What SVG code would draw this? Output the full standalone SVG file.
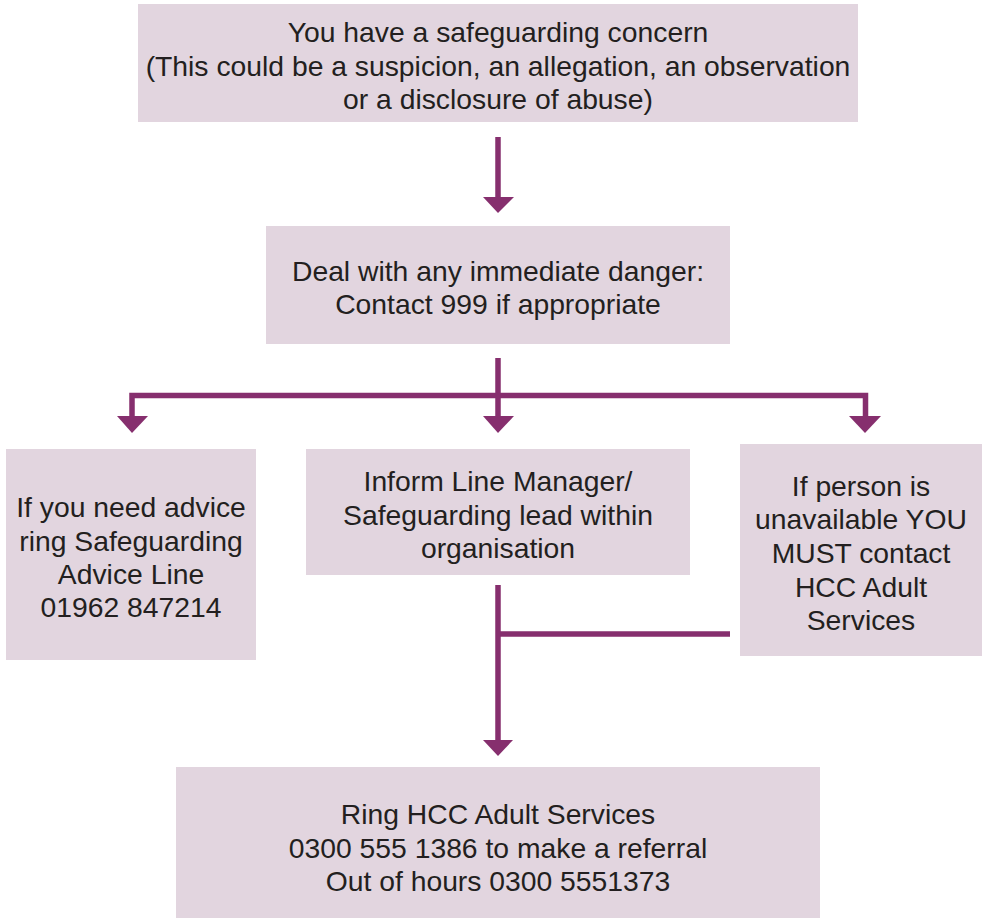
<svg xmlns="http://www.w3.org/2000/svg" width="987" height="920" viewBox="0 0 987 920">
<style>
.box{fill:#e2d5df}
.t{font-family:"Liberation Sans",Arial,sans-serif;font-size:28.3px;fill:#231f20;text-anchor:middle}
.ln{stroke:#862f6e;stroke-width:5.5;fill:none}
.ah{fill:#862f6e}
</style>
<rect width="987" height="920" fill="#ffffff"/>
<g id="n1"><rect class="box" x="138" y="4" width="720" height="118"/>
<text class="t" x="498" y="42">You have a safeguarding concern</text>
<text class="t" x="498" y="76">(This could be a suspicion, an allegation, an observation</text>
<text class="t" x="498" y="109">or a disclosure of abuse)</text></g>
<g id="n2"><rect class="box" x="266" y="226" width="464" height="118"/>
<text class="t" x="498" y="281">Deal with any immediate danger:</text>
<text class="t" x="498" y="314">Contact 999 if appropriate</text></g>
<g id="n3"><rect class="box" x="6" y="449" width="250" height="211"/>
<text class="t" x="131" y="517">If you need advice</text>
<text class="t" x="131" y="551">ring Safeguarding</text>
<text class="t" x="131" y="584">Advice Line</text>
<text class="t" x="131" y="617">01962 847214</text></g>
<g id="n4"><rect class="box" x="306" y="449" width="384" height="126"/>
<text class="t" x="498" y="491">Inform Line Manager/</text>
<text class="t" x="498" y="525">Safeguarding lead within</text>
<text class="t" x="498" y="558">organisation</text></g>
<g id="n5"><rect class="box" x="740" y="444" width="242" height="212"/>
<text class="t" x="861" y="496">If person is</text>
<text class="t" x="861" y="529">unavailable YOU</text>
<text class="t" x="861" y="563">MUST contact</text>
<text class="t" x="861" y="597">HCC Adult</text>
<text class="t" x="861" y="630">Services</text></g>
<g id="n6"><rect class="box" x="176" y="767" width="644" height="151"/>
<text class="t" x="498" y="824">Ring HCC Adult Services</text>
<text class="t" x="498" y="858">0300 555 1386 to make a referral</text>
<text class="t" x="498" y="891">Out of hours 0300 5551373</text></g>
<g id="connectors">
<path class="ln" d="M498 137V199"/>
<polygon class="ah" points="483,197 514,197 498,213"/>
<path class="ln" d="M498 358V395.5M132 418V395.5H865.5V418M498 395.5V418"/>
<polygon class="ah" points="117,416 148,416 132,433"/>
<polygon class="ah" points="483,416 514,416 498,433"/>
<polygon class="ah" points="849,416 881,416 865,433"/>
<path class="ln" d="M498 585V742M498 634H730"/>
<polygon class="ah" points="483,740 513,740 498,756"/>
</g>
</svg>
